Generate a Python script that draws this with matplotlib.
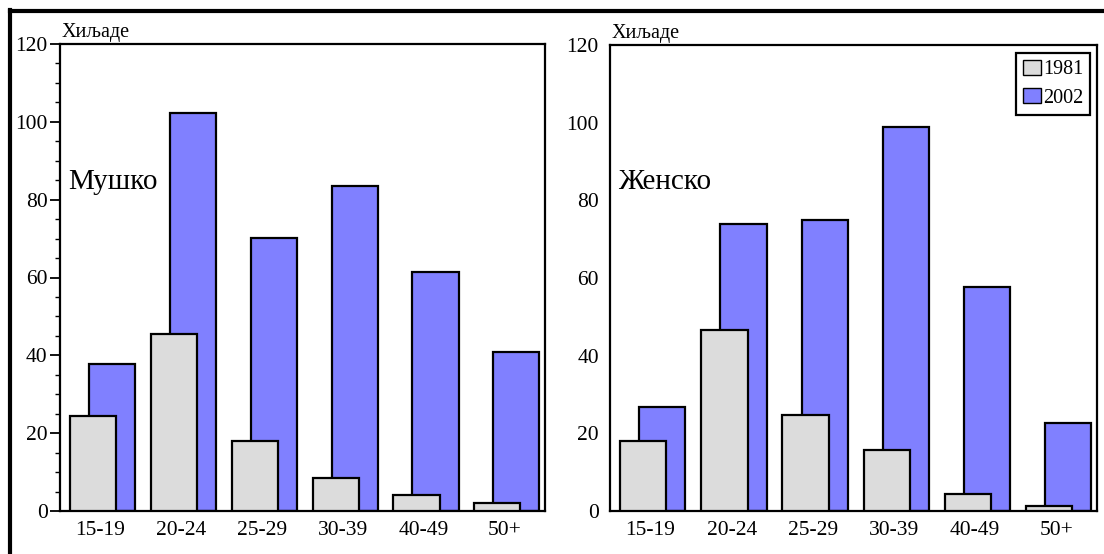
import matplotlib
matplotlib.use("Agg")
import matplotlib.pyplot as plt
from matplotlib.lines import Line2D
from matplotlib.ticker import MultipleLocator
import numpy as np

plt.rcParams['font.family'] = ['Liberation Serif', 'DejaVu Serif']

categories = ["15-19", "20-24", "25-29", "30-39", "40-49", "50+"]
male_1981 = [24.4, 45.5, 18.0, 8.5, 4.1, 2.0]
male_2002 = [37.8, 102.3, 70.2, 83.5, 61.4, 40.9]
female_1981 = [18.0, 46.5, 24.7, 15.7, 4.4, 1.3]
female_2002 = [26.7, 74.0, 75.0, 98.8, 57.6, 22.6]
series_labels = ["1981", "2002"]
panel_titles = ["Мушко", "Женско"]
unit_label = "Хиљаде"

c1981 = "#dcdcdc"
c2002 = "#8080ff"

fig = plt.figure(figsize=(11.04, 5.54), dpi=100)

# outer frame (left and top edges visible)
fig.add_artist(Line2D([9.5/1104, 9.5/1104], [0, 1 - 9.5/554], color='black', lw=3, transform=fig.transFigure))
fig.add_artist(Line2D([9.5/1104, 1], [1 - 11/554, 1 - 11/554], color='black', lw=3, transform=fig.transFigure))

W, H = 1104, 554
ax1 = fig.add_axes([60/W, (H-511)/H, 485/W, 467/H])
ax2 = fig.add_axes([610/W, (H-511)/H, 487/W, 466/H])

x = np.arange(len(categories))
bw = 0.57
for ax, v81, v02, title, minor in [(ax1, male_1981, male_2002, panel_titles[0], True),
                                   (ax2, female_1981, female_2002, panel_titles[1], False)]:
    ax.bar(x + 0.145, v02, width=bw, color=c2002, edgecolor='black', linewidth=1.6, zorder=2, label=series_labels[1])
    ax.bar(x - 0.09, v81, width=bw, color=c1981, edgecolor='black', linewidth=1.6, zorder=3, label=series_labels[0])
    ax.set_xlim(-0.5, len(categories) - 0.5)
    ax.set_ylim(0, 120)
    ax.yaxis.set_major_locator(MultipleLocator(20))
    ax.set_xticks(x)
    ax.set_xticklabels(categories, fontsize=15.5)
    ax.tick_params(axis='x', length=0, pad=7)
    for s in ax.spines.values():
        s.set_linewidth(1.6)
    if minor:
        ax.yaxis.set_minor_locator(MultipleLocator(5))
        ax.tick_params(axis='y', which='major', length=7, width=1.3, pad=2, labelsize=15.5, direction='out')
        ax.tick_params(axis='y', which='minor', length=3.5, width=1.0, direction='out')
    else:
        ax.tick_params(axis='y', which='major', length=0, pad=8, labelsize=15.5)
    ax.text(0.016, 0.705, title, transform=ax.transAxes, fontsize=21, va='center', ha='left')
    ax.text(0.004, 1.005, unit_label, transform=ax.transAxes, fontsize=14.5, va='bottom', ha='left')

handles, labels = ax2.get_legend_handles_labels()
leg = ax2.legend(handles[::-1], labels[::-1], loc='upper right', bbox_to_anchor=(0.986, 0.983),
                 borderaxespad=0, fancybox=False, edgecolor='black', framealpha=1,
                 fontsize=14.5, handlelength=0.9, handleheight=0.75, handletextpad=0.1,
                 borderpad=0.35, labelspacing=0.45)
leg.get_frame().set_linewidth(1.6)
for p in leg.get_patches():
    p.set_linewidth(1.0)

fig.savefig("out.png", dpi=100)
